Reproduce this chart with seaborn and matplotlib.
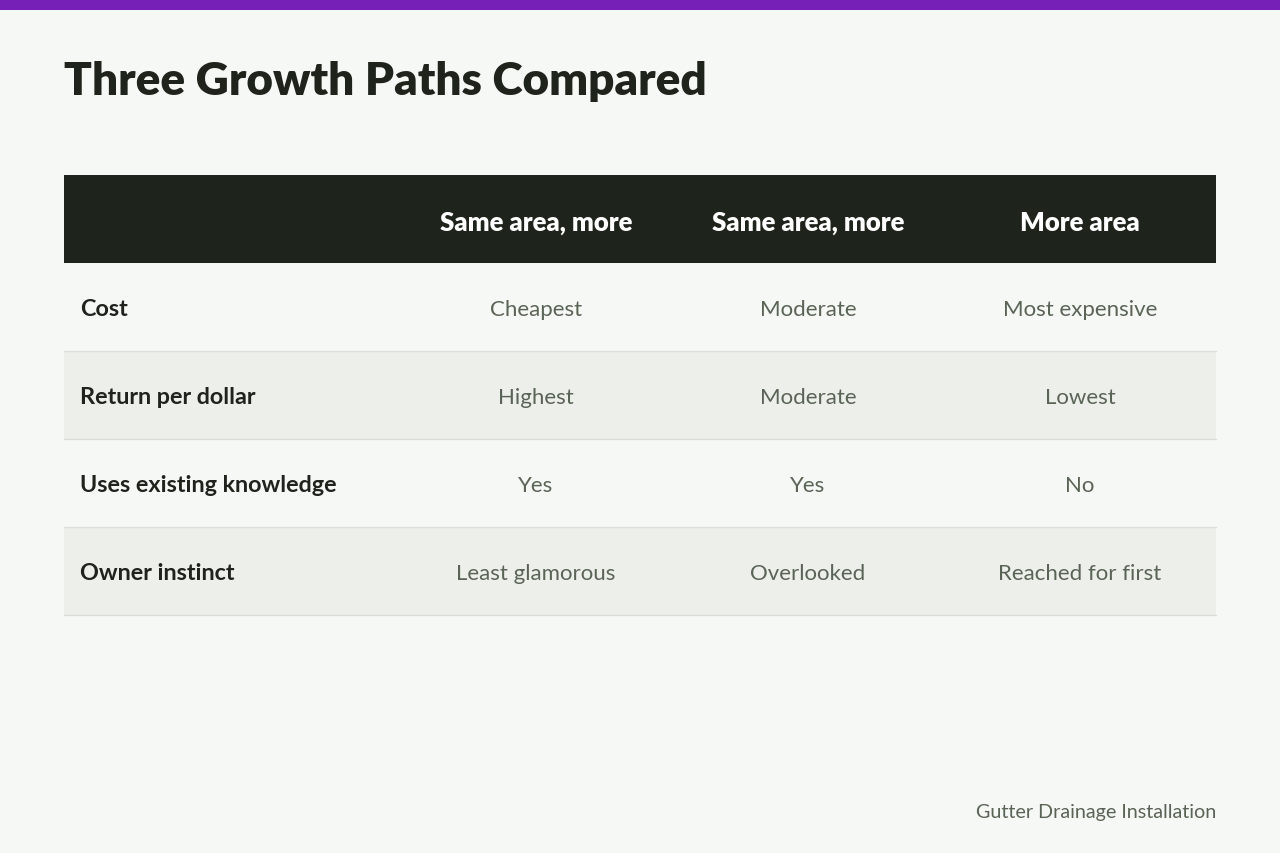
import matplotlib
matplotlib.use("Agg")
import matplotlib.pyplot as plt
import seaborn as sns

# table content
title = "Three Growth Paths Compared"
columns = ["Same area, more", "Same area, more", "More area"]
rows = ["Cost", "Return per dollar", "Uses existing knowledge", "Owner instinct"]
cost = ["Cheapest", "Moderate", "Most expensive"]
return_per_dollar = ["Highest", "Moderate", "Lowest"]
existing_knowledge = ["Yes", "Yes", "No"]
owner_instinct = ["Least glamorous", "Overlooked", "Reached for first"]
cells = [cost, return_per_dollar, existing_knowledge, owner_instinct]
footer = "Gutter Drainage Installation"

BG = "#F6F8F5"
DARK = "#1E231C"
MUTED = "#5A6456"
STRIPE = "#EDEFEB"
RULE = "#DCDFD9"
PURPLE = "#7620B8"

sns.set_theme(style="white")
plt.rcParams["font.family"] = ["Lato", "DejaVu Sans"]

fig = plt.figure(figsize=(12.8, 8.54), dpi=100, facecolor=BG)
ax = fig.add_axes([0, 0, 1, 1])
ax.set_xlim(0, 1280)
ax.set_ylim(854, 0)
ax.set_facecolor(BG)
ax.axis("off")

# top accent bar
ax.axhspan(0, 11, color=PURPLE, lw=0)

ax.text(64, 81, title, fontsize=33, fontweight="heavy", color=DARK,
        va="center", ha="left")

left, right = 64, 1216
label_w = 336
col_w = (right - left - label_w) / len(columns)
head_top, head_h, row_h = 176, 88, 88

# header band
ax.barh(head_top + head_h / 2, right - left, left=left, height=head_h,
        color=DARK, lw=0)
for j, c in enumerate(columns):
    cx = left + label_w + col_w * (j + 0.5)
    ax.text(cx, head_top + head_h / 2 + 3, c, fontsize=18.5, fontweight="heavy",
            color="white", ha="center", va="center")

# body rows
for i, (name, vals) in enumerate(zip(rows, cells)):
    top = head_top + head_h + i * row_h
    cy = top + row_h / 2 + 2
    ax.barh(top + row_h / 2, right - left, left=left, height=row_h,
            color=BG if i % 2 == 0 else STRIPE, lw=0)
    ax.plot([left, right], [top + row_h, top + row_h], color=RULE, lw=1)
    ax.text(80, cy, name, fontsize=16.8, fontweight="bold", color=DARK,
            ha="left", va="center")
    for j, v in enumerate(vals):
        cx = left + label_w + col_w * (j + 0.5)
        ax.text(cx, cy, v, fontsize=16, color=MUTED, ha="center", va="center")

ax.text(right, 813, footer, fontsize=14.2, color=MUTED, ha="right", va="center")

fig.savefig("out.png", dpi=100, facecolor=BG)
